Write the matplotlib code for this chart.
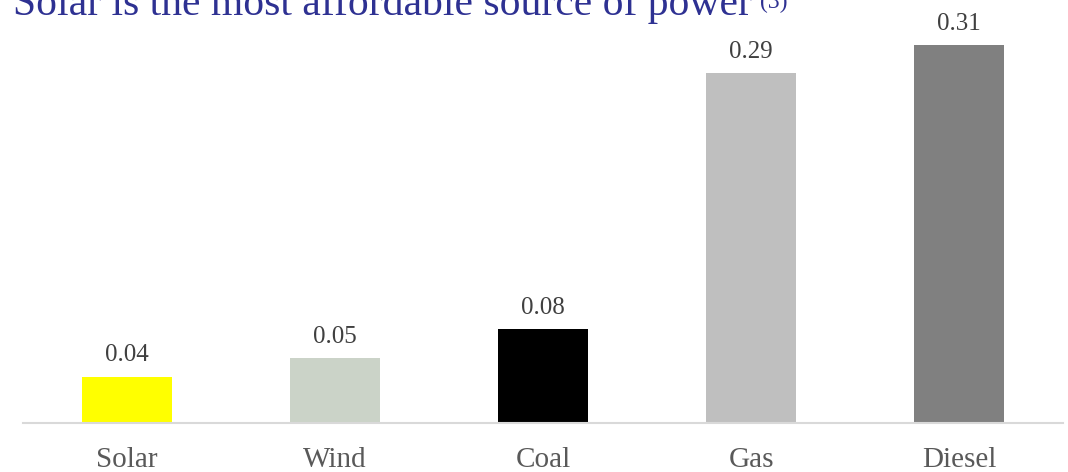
import matplotlib.pyplot as plt
import numpy as np

# data
sources = ['Solar', 'Wind', 'Coal', 'Gas', 'Diesel']
cost = [0.038, 0.053, 0.077, 0.287, 0.31]
colors = ['#FFFF00', '#CBD3C8', '#000000', '#BFBFBF', '#808080']

title = 'Solar is the most affordable source of power'
title_note = '(3)'

plt.rcParams['font.family'] = ['Liberation Serif', 'DejaVu Serif']

fig = plt.figure(figsize=(10.68, 4.72), dpi=100)
W, H = 1068, 472
# axes from x=23..1063 px, baseline y=423 px, top at 0
ax = fig.add_axes([23 / W, (H - 423) / H, 1040 / W, 423 / H])

x = np.arange(len(sources))
bars = ax.bar(x, cost, width=0.43, color=colors, zorder=2)

for xi, v in zip(x, cost):
    ax.text(xi, v + 0.0085, f'{v:.2f}', ha='center', va='bottom',
            fontsize=18, color='#404040')

ax.set_xlim(-0.5, 4.5)
ax.set_ylim(0, 423 / 1219)
ax.set_yticks([])
ax.set_xticks(x)
ax.set_xticklabels(sources, fontsize=21, color='#595959')
ax.tick_params(axis='x', length=0, pad=17)
for s in ['top', 'right', 'left']:
    ax.spines[s].set_visible(False)
ax.spines['bottom'].set_color('#D9D9D9')
ax.spines['bottom'].set_linewidth(1.5)
ax.patch.set_alpha(0)

# title, partly cut at the top like the reference
t = fig.text(13 / W, (H - 15) / H, title, fontsize=30, color='#2E3192',
             ha='left', va='baseline')
fig.canvas.draw()
bb = t.get_window_extent()
fig.text((bb.x1 + 8) / W, (H - 8) / H, title_note, fontsize=17,
         color='#2E3192', ha='left', va='baseline')

fig.savefig('out.png', dpi=100)
